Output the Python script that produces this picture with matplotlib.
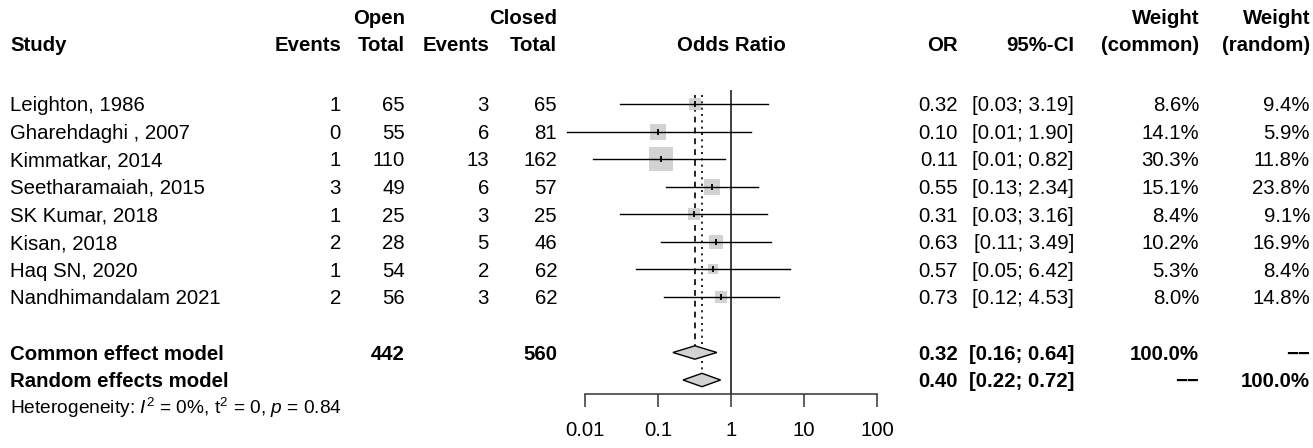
import numpy as np
import matplotlib
matplotlib.use("Agg")
import matplotlib.pyplot as plt
from matplotlib.patches import Polygon

plt.rcParams['font.family'] = ['Liberation Sans', 'DejaVu Sans']
plt.rcParams['mathtext.fontset'] = 'custom'
plt.rcParams['mathtext.rm'] = 'Liberation Sans'
plt.rcParams['mathtext.it'] = 'Liberation Sans:italic'
plt.rcParams['mathtext.bf'] = 'Liberation Sans:bold'

# data
studies = ["Leighton, 1986", "Gharehdaghi , 2007", "Kimmatkar, 2014", "Seetharamaiah, 2015",
           "SK Kumar, 2018", "Kisan, 2018", "Haq SN, 2020", "Nandhimandalam 2021"]
events_open = [1, 0, 1, 3, 1, 2, 1, 2]
total_open = [65, 55, 110, 49, 25, 28, 54, 56]
events_closed = [3, 6, 13, 6, 3, 5, 2, 3]
total_closed = [65, 81, 162, 57, 25, 46, 62, 62]
odds = [0.32, 0.10, 0.11, 0.55, 0.31, 0.63, 0.57, 0.73]
ci_low = [0.03, 0.0056, 0.013, 0.13, 0.03, 0.11, 0.05, 0.12]
ci_high = [3.19, 1.90, 0.82, 2.34, 3.16, 3.49, 6.42, 4.53]
w_common = [8.6, 14.1, 30.3, 15.1, 8.4, 10.2, 5.3, 8.0]
w_random = [9.4, 5.9, 11.8, 23.8, 9.1, 16.9, 8.4, 14.8]

models = ["Common effect model", "Random effects model"]
model_or = [0.32, 0.40]
model_low = [0.16, 0.22]
model_high = [0.64, 0.72]
sum_open = 442
sum_closed = 560
het_text = r"Heterogeneity: $I^2$ = 0%, t$^2$ = 0, $p$ = 0.84"
ticks = [0.01, 0.1, 1, 10, 100]
tick_labels = ["0.01", "0.1", "1", "10", "100"]

W, H = 1313, 448
FS = 14.7

# layout (pixels from top)
row_y = [104 + 27.55 * i for i in range(len(studies))]
sum_y = [352.5, 380]
head1_y, head2_y = 17, 44
het_y = 407

# column right edges
x_study = 10
x_ev_o, x_tot_o, x_ev_c, x_tot_c = 341, 405, 489, 557
x_or, x_ci, x_wc, x_wr = 958, 1074, 1199, 1310
DASH = "\u2212\u2212"


def txt(ax, x, y, s, ha='right', bold=False, size=FS):
    # baseline set so the cap height is centred on y
    ax.text(x, y + 0.716 * size / 0.72 / 2, s, ha=ha, va='baseline', fontsize=size,
            fontweight='bold' if bold else 'normal')


fig = plt.figure(figsize=(W / 100, H / 100), dpi=100)
ax = fig.add_axes([0, 0, 1, 1])
ax.set_xlim(0, W)
ax.set_ylim(H, 0)
ax.axis('off')

# headers
txt(ax, x_tot_o, head1_y, "Open", bold=True)
txt(ax, x_tot_c, head1_y, "Closed", bold=True)
txt(ax, x_wc, head1_y, "Weight", bold=True)
txt(ax, x_wr, head1_y, "Weight", bold=True)
txt(ax, x_study, head2_y, "Study", ha='left', bold=True)
for x, s in [(x_ev_o, "Events"), (x_tot_o, "Total"), (x_ev_c, "Events"), (x_tot_c, "Total"),
             (x_or, "OR"), (x_ci, "95%-CI"), (x_wc, "(common)"), (x_wr, "(random)")]:
    txt(ax, x, head2_y, s, bold=True)
txt(ax, 731, head2_y, "Odds Ratio", ha='center', bold=True)

# study rows
for i, y in enumerate(row_y):
    txt(ax, x_study, y, studies[i], ha='left')
    txt(ax, x_ev_o, y, str(events_open[i]))
    txt(ax, x_tot_o, y, str(total_open[i]))
    txt(ax, x_ev_c, y, str(events_closed[i]))
    txt(ax, x_tot_c, y, str(total_closed[i]))
    txt(ax, x_or, y, f"{odds[i]:.2f}")
    txt(ax, x_ci, y, f"[{ci_low[i]:.2f}; {ci_high[i]:.2f}]")
    txt(ax, x_wc, y, f"{w_common[i]:.1f}%")
    txt(ax, x_wr, y, f"{w_random[i]:.1f}%")

# summary rows
for j, y in enumerate(sum_y):
    txt(ax, x_study, y, models[j], ha='left', bold=True)
    txt(ax, x_or, y, f"{model_or[j]:.2f}", bold=True)
    txt(ax, x_ci, y, f"[{model_low[j]:.2f}; {model_high[j]:.2f}]", bold=True)
txt(ax, x_tot_o, sum_y[0], str(sum_open), bold=True)
txt(ax, x_tot_c, sum_y[0], str(sum_closed), bold=True)
txt(ax, x_wc, sum_y[0], "100.0%", bold=True)
txt(ax, x_wr, sum_y[0], DASH, bold=True)
txt(ax, x_wc, sum_y[1], DASH, bold=True)
txt(ax, x_wr, sum_y[1], "100.0%", bold=True)
txt(ax, x_study, het_y, het_text, ha='left', size=13.8)

# forest panel
fx0, fx1 = 585, 877
fa = fig.add_axes([fx0 / W, 0, (fx1 - fx0) / W, 1])
fa.patch.set_visible(False)
fa.set_xscale('log')
fa.set_xlim(0.01, 100)
fa.set_ylim(H, 0)
for s in ['left', 'top', 'right']:
    fa.spines[s].set_visible(False)
fa.spines['bottom'].set_position(('data', 394))
fa.spines['bottom'].set_linewidth(1.1)
fa.spines['bottom'].set_color('#333333')
fa.set_xticks(ticks)
fa.set_xticklabels(tick_labels)
fa.xaxis.set_minor_locator(matplotlib.ticker.NullLocator())
fa.tick_params(axis='x', direction='out', length=9.4, width=1.1, color='#333333',
               labelsize=FS, pad=10)
fa.set_yticks([])

# reference and pooled lines
fa.vlines(1, 90, 394, color='#333333', lw=1.3)
fa.vlines(model_or[0], 95, sum_y[0] - 6.7, color='black', lw=1.2, linestyles=(0, (3.5, 3)))
fa.vlines(model_or[1], 95, sum_y[1] - 6.7, color='black', lw=1.2, linestyles=(0, (1.2, 2.6)))

# studies
for i, y in enumerate(row_y):
    side = 4.2 * np.sqrt(w_common[i]) * 0.72
    fa.scatter([odds[i]], [y], marker='s', s=side ** 2, color='#d2d2d2', linewidths=0, zorder=2)
    fa.plot([ci_low[i], ci_high[i]], [y, y], color='black', lw=1.0, zorder=3, clip_on=False)
    fa.plot([odds[i]], [y], marker='|', markersize=4.5, mew=1.3, color='black', zorder=4)

# diamonds
for j, y in enumerate(sum_y):
    h = 6.7
    d = Polygon([(model_low[j], y), (model_or[j], y - h), (model_high[j], y), (model_or[j], y + h)],
                closed=True, facecolor='#d2d2d2', edgecolor='black', lw=1.0, zorder=3)
    fa.add_patch(d)

fig.savefig("out.png", dpi=100)
